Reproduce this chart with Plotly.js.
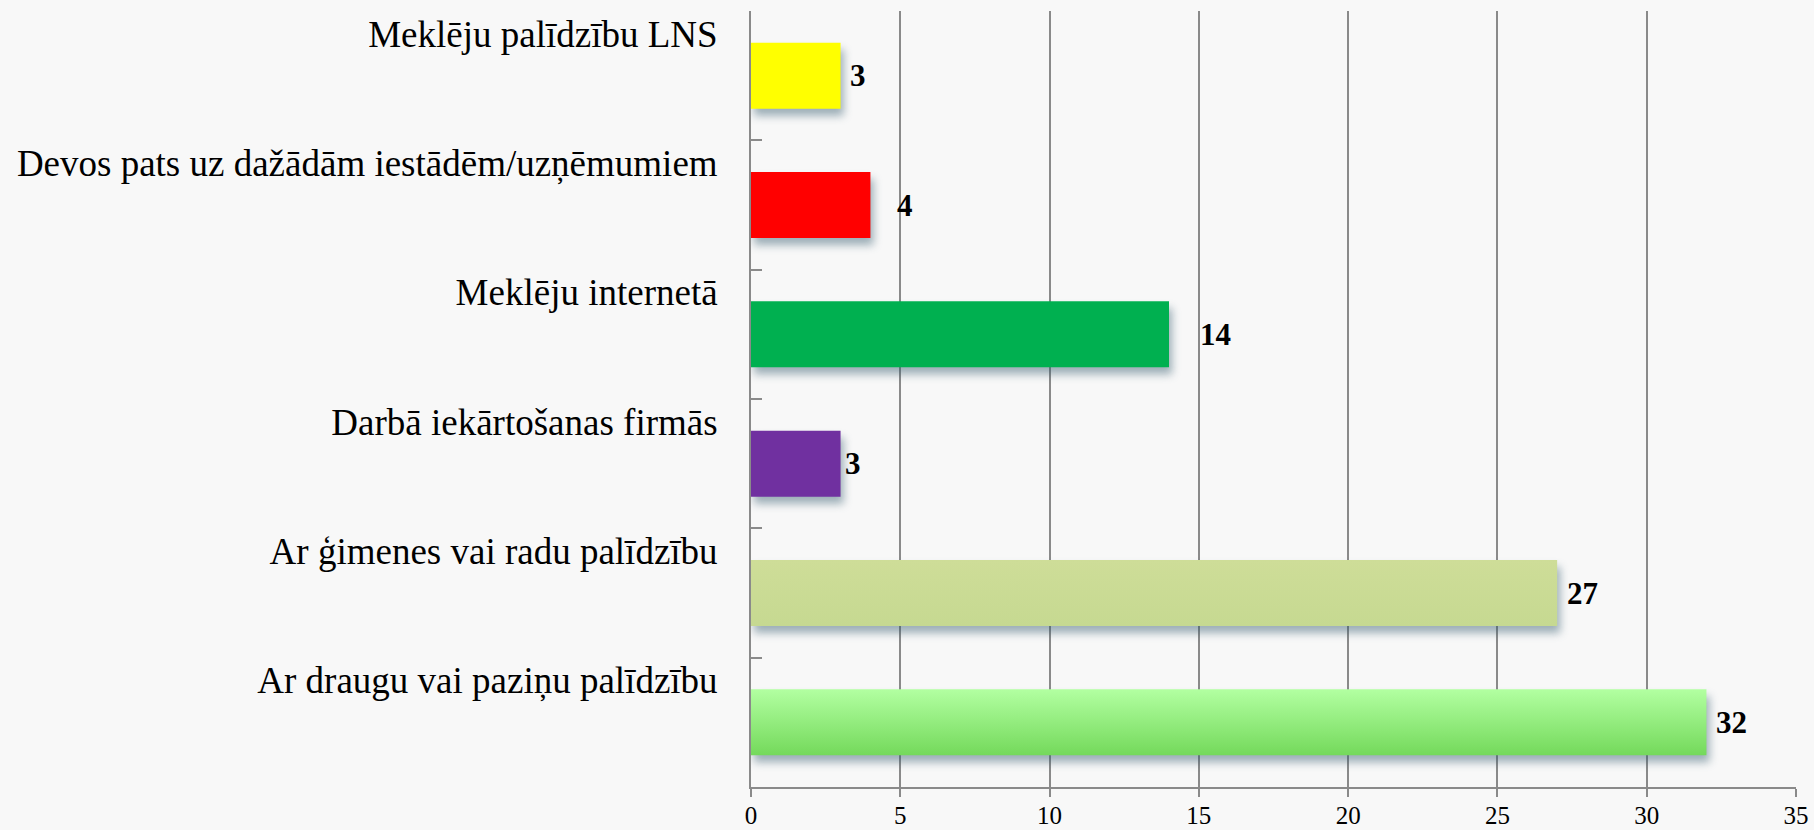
<!DOCTYPE html>
<html>
<head>
<meta charset="utf-8">
<script src="https://cdn.plot.ly/plotly-3.0.1.min.js"></script>
<style>
  html, body { margin: 0; padding: 0; background: #f8f8f8; }
  #chart { width: 1814px; height: 830px; }
  .trace.bars .point path { filter: drop-shadow(3px 7px 4px rgba(45, 85, 105, 0.45)); }
</style>
</head>
<body>
<div id="chart"></div>
<script>
// Categories listed bottom to top (Plotly draws the first category at the bottom)
const categories = [
  "Ar draugu vai paziņu palīdzību",
  "Ar ģimenes vai radu palīdzību",
  "Darbā iekārtošanas firmās",
  "Meklēju internetā",
  "Devos pats uz dažādām iestādēm/uzņēmumiem",
  "Meklēju palīdzību LNS"
];
const values = [32, 27, 3, 14, 4, 3];
const barColors = ["#95E97E", "#CADB95", "#7030A0", "#00B050", "#FF0000", "#FFFF00"];
const labelNudge = [8, 8, 2, 29, 25, 7];
const xTicks = [0, 5, 10, 15, 20, 25, 30, 35];

const gridGray = "#8a8a8a";
const serif = "Liberation Serif, Times New Roman, serif";

const trace = {
  type: "bar",
  orientation: "h",
  y: categories,
  x: values,
  marker: { color: barColors, line: { width: 0 } },
  hoverinfo: "x+y",
  cliponaxis: false
};

const annotations = values.map((v, i) => ({
  x: v, y: categories[i], xref: "x", yref: "y",
  text: String(v), showarrow: false,
  xanchor: "left", yanchor: "middle",
  xshift: labelNudge[i],
  font: { family: serif, size: 31, color: "#000", weight: "bold" }
}));

const layout = {
  width: 1814, height: 830,
  margin: { l: 751, r: 18, t: 11, b: 43 },
  paper_bgcolor: "#f8f8f8",
  plot_bgcolor: "#f8f8f8",
  showlegend: false,
  bargap: 0.49,
  font: { family: serif, color: "#000" },
  xaxis: {
    range: [0, 35],
    tickvals: xTicks,
    ticktext: xTicks.map(String),
    showgrid: true, gridcolor: gridGray, gridwidth: 2,
    zeroline: false,
    showline: true, linecolor: gridGray, linewidth: 2,
    ticks: "outside", ticklen: 8, tickcolor: gridGray, tickwidth: 2,
    tickfont: { size: 25, family: serif, color: "#000" },
    ticklabelstandoff: -3,
    fixedrange: true
  },
  yaxis: {
    type: "category",
    categoryorder: "array",
    categoryarray: categories,
    showline: true, linecolor: gridGray, linewidth: 2,
    showgrid: false, zeroline: false,
    ticks: "inside", tickson: "boundaries", ticklen: 11, tickcolor: gridGray, tickwidth: 2,
    tickfont: { size: 37, family: serif, color: "#000" },
    ticklabelshift: -42,
    ticklabelstandoff: 24,
    fixedrange: true
  },
  annotations: annotations
};

Plotly.newPlot("chart", [trace], layout, { displayModeBar: false, staticPlot: true }).then(gd => {
  // add vertical gradients to the two light-green bars, like the original
  const svg = gd.querySelector("svg.main-svg");
  const ns = "http://www.w3.org/2000/svg";
  let defs = svg.querySelector("defs");
  if (!defs) { defs = document.createElementNS(ns, "defs"); svg.insertBefore(defs, svg.firstChild); }
  function grad(id, top, bottom) {
    const g = document.createElementNS(ns, "linearGradient");
    g.setAttribute("id", id);
    g.setAttribute("x1", "0"); g.setAttribute("y1", "0");
    g.setAttribute("x2", "0"); g.setAttribute("y2", "1");
    [[0, top], [1, bottom]].forEach(([o, c]) => {
      const s = document.createElementNS(ns, "stop");
      s.setAttribute("offset", o); s.setAttribute("stop-color", c);
      g.appendChild(s);
    });
    defs.appendChild(g);
  }
  grad("gGreen", "#B2FFA1", "#74D95B");
  grad("gOlive", "#CEDD98", "#C6D991");
  const paths = gd.querySelectorAll(".trace.bars .point path");
  if (paths[0]) paths[0].style.fill = "url(#gGreen)";
  if (paths[1]) paths[1].style.fill = "url(#gOlive)";
});
</script>
</body>
</html>
